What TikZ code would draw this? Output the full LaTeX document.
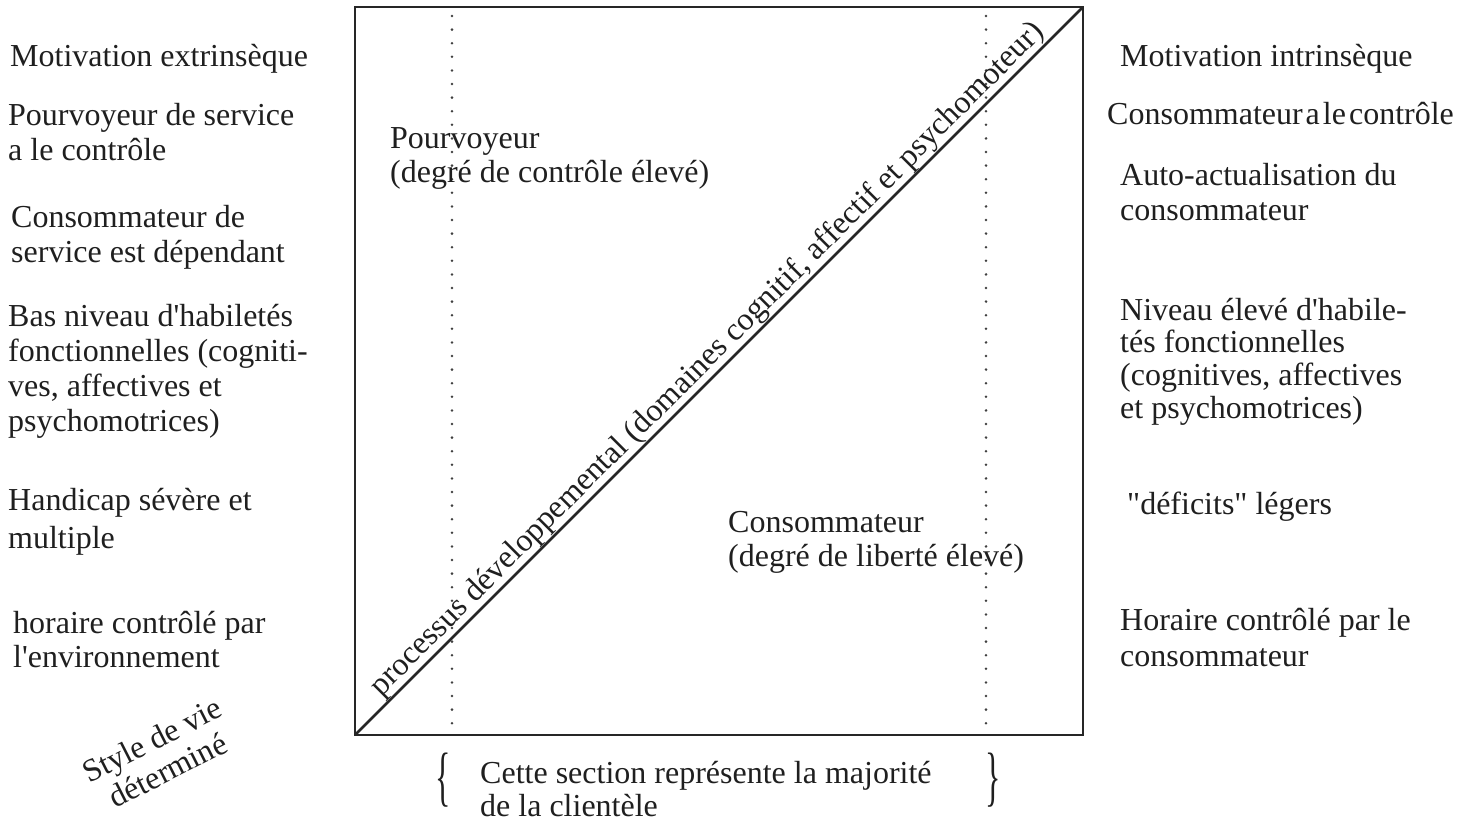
\documentclass[tikz,border=0pt]{standalone}
\usepackage{fontspec}
\setmainfont{Liberation Serif}
\usetikzlibrary{calc}
% several lines stacked with a given line pitch; baseline = first line
\newcommand\linesL[2]{\vtop{\baselineskip=#1pt\lineskiplimit=-100pt\def\\{\cr}\halign{##\hfil\cr#2\cr}}}
\newcommand\linesC[2]{\vtop{\baselineskip=#1pt\lineskiplimit=-100pt\def\\{\cr}\halign{\hfil##\hfil\cr#2\cr}}}
\begin{document}
\begin{tikzpicture}[x=1pt,y=-1pt,
  txt/.style={anchor=base west,inner sep=0pt,font=\fontsize{32}{35}\selectfont,text=black!88},
  frame/.style={line width=2pt,draw=black!85},
  diag/.style={line width=2.6pt,draw=black!85},
  dots/.style={line width=2.8pt,draw=black!75,line cap=round,dash pattern=on 0pt off 13.6pt},
  brace/.style={inner sep=0pt,font=\fontsize{32}{35}\selectfont,text=black!88}]
\useasboundingbox (0,0) rectangle (1470,823);
\clip (0,0) rectangle (1470,823);

% square frame and diagonal
\coordinate (tl) at (355,7);
\coordinate (br) at (1083,735);
\coordinate (bl) at (355,735);
\coordinate (tr) at (1083,7);
\draw[frame] (tl) rectangle (br);
\draw[diag] (bl) -- (tr);

% dotted boundaries of the main section
\coordinate (d1t) at (452,16);
\coordinate (d1b) at (452,735);
\coordinate (d2t) at (986,16);
\coordinate (d2b) at (986,735);
\draw[dots] (d1t) -- (d1b);
\draw[dots] (d2t) -- (d2b);

% label along the diagonal
\node[anchor=south,inner sep=1pt,rotate=45,font=\fontsize{32}{35}\selectfont,text=black!88]
  (proc) at ($(bl)!0.5!(tr)$) {processus développemental (domaines cognitif, affectif et psychomoteur)};

% inside the square
\node[txt] (pourv) at (390,148) {\linesL{34}{Pourvoyeur\\(degré de contrôle élevé)}};
\node[txt] (conso) at (728,532) {\linesL{34}{Consommateur\\(degré de liberté élevé)}};

% left column
\node[txt] (l1) at (10,66) {Motivation extrinsèque};
\node[txt] (l2) at (8,125) {\linesL{35.5}{Pourvoyeur de service\\a le contrôle}};
\node[txt] (l3) at (11,227) {\linesL{35}{Consommateur de\\service est dépendant}};
\node[txt] (l4) at (8,326) {\linesL{35}{Bas niveau d\textquotesingle habiletés\\fonctionnelles (cogniti-\\ves, affectives et\\psychomotrices)}};
\node[txt] (l5) at (8,510) {\linesL{38}{Handicap sévère et\\multiple}};
\node[txt] (l6) at (13,633) {\linesL{34.5}{horaire contrôlé par\\l\textquotesingle environnement}};
\node[inner sep=0pt,rotate=27,font=\fontsize{32}{35}\selectfont,text=black!88]
  (l7) at (160,755) {\linesC{34}{Style de vie\\déterminé}};

% right column
\node[txt] (r1) at (1120,66) {Motivation intrinsèque};
\node[txt] (r2) at (1107,124) {\spaceskip=3pt plus 1pt Consommateur a le contrôle};
\node[txt] (r3) at (1120,185) {\linesL{35}{Auto-actualisation du\\consommateur}};
\node[txt] (r4) at (1120,320) {\linesL{32.7}{Niveau élevé d\textquotesingle habile-\\tés fonctionnelles\\(cognitives, affectives\\et psychomotrices)}};
\node[txt] (r5) at (1127,514) {\textquotedbl déficits\textquotedbl{} légers};
\node[txt] (r6) at (1120,630) {\linesL{36}{Horaire contrôlé par le\\consommateur}};
\node[inner sep=0pt,rotate=27,font=\fontsize{32}{35}\selectfont,text=black!88]
  (r7) at (1222,-9) {a};

% bottom note with braces
\node[brace] (lbr) at (443,780) {\scalebox{1}[2.05]{\{}};
\node[brace] (rbr) at (993,780) {\scalebox{1}[2.05]{\}}};
\node[txt] (note) at (480,783) {\linesL{33}{Cette section représente la majorité\\de la clientèle}};
\end{tikzpicture}
\end{document}
